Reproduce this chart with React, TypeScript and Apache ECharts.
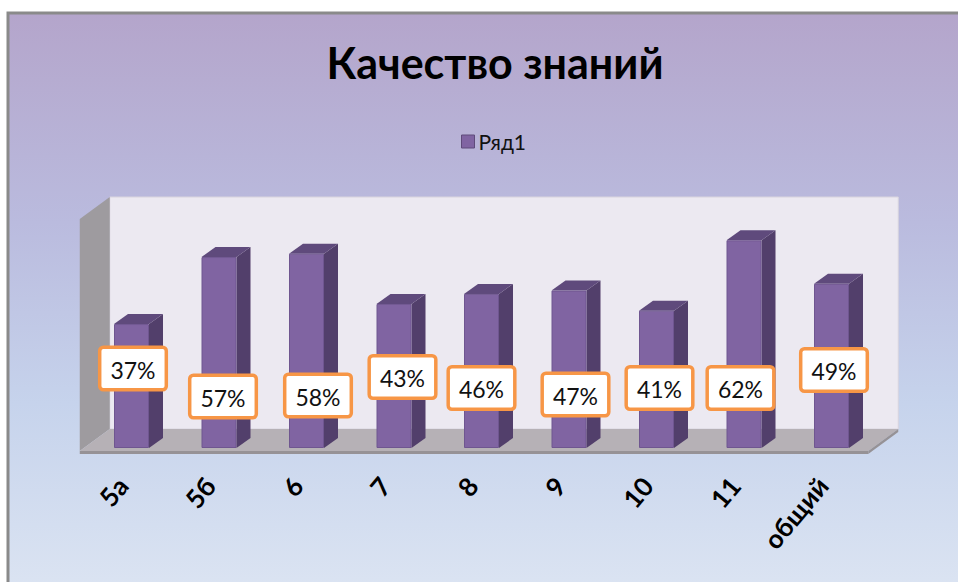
import React, { useEffect, useRef } from "react";
import * as echarts from "echarts";

const categories = ["5а", "5б", "6", "7", "8", "9", "10", "11", "общий"];
const values = [37, 57, 58, 43, 46, 47, 41, 62, 49];
const seriesName = "Ряд1";
const titleText = "Качество знаний";

// label placement tweaks (dx, dy in px), as in the source slide
const labelOffsets: [number, number][] = [
  [1.5, -55], [4, -27], [11.5, -28], [8.5, -46.5], [0, -35.5],
  [6.5, -29], [3, -35.5], [-3.5, -35.5], [2.5, -53.5],
];

const W = 958;
const H = 582;
const GL = 87.75;
const GW = 787.5;
const GTOP = 213.5;
const GH = 234.5;
const GB = GTOP + GH;
const GR = GL + GW;
const WDX = 30;
const WDY = -22;
const BDX = 14;
const BDY = -10;

export default function App() {
  const ref = useRef<HTMLDivElement>(null);
  useEffect(() => {
    if (!ref.current) return;
    const chart = echarts.init(ref.current, null, { renderer: "svg" });
    const fl = GL - 8;
    const fr = GR - 7;
    const fy = GB + 3;
    const graphic: any[] = [
      {
        type: "rect",
        z: 0,
        shape: { x: 8, y: 13, width: 1000, height: 600 },
        style: {
          fill: new echarts.graphic.LinearGradient(0, 0, 0, 1, [
            { offset: 0, color: "#B4A5CB" },
            { offset: 0.35, color: "#BABBDE" },
            { offset: 0.65, color: "#C6D3EC" },
            { offset: 1, color: "#DEE6F3" },
          ]),
          stroke: "#8A8A8A",
          lineWidth: 3,
        },
      },
      // back wall
      {
        type: "rect",
        z: 1,
        shape: { x: fl + WDX, y: 197, width: fr - fl, height: fy + WDY - 197 },
        style: { fill: "#ECE9F1", stroke: "#D8D4DE", lineWidth: 1 },
      },
      // left wall
      {
        type: "polygon",
        z: 1,
        shape: {
          points: [
            [fl, 197 - WDY],
            [fl + WDX, 197],
            [fl + WDX, fy + WDY],
            [fl, fy],
          ],
        },
        style: { fill: "#9E9B9F" },
      },
      // floor top
      {
        type: "polygon",
        z: 1,
        shape: {
          points: [
            [fl, fy],
            [fr, fy],
            [fr + WDX, fy + WDY],
            [fl + WDX, fy + WDY],
          ],
        },
        style: { fill: "#B6B1B6" },
      },
      // floor front edge
      {
        type: "rect",
        z: 1,
        shape: { x: fl, y: fy, width: fr - fl, height: 3 },
        style: { fill: "#969296" },
      },
      {
        type: "polygon",
        z: 1,
        shape: {
          points: [
            [fr, fy],
            [fr + WDX, fy + WDY],
            [fr + WDX, fy + WDY + 3],
            [fr, fy + 3],
          ],
        },
        style: { fill: "#969296" },
      },
    ];

    chart.setOption({
      animation: false,
      title: {
        text: titleText,
        left: 490,
        textAlign: "center",
        top: 36,
        textStyle: {
          fontFamily: "Lato",
          fontWeight: "bold",
          fontSize: 43,
          color: "#000",
        },
      },
      legend: {
        data: [seriesName],
        left: 456,
        top: 126,
        itemWidth: 13,
        itemHeight: 13,
        itemGap: 4,
        icon: "rect",
        itemStyle: { borderColor: "#5F4B7A", borderWidth: 1 },
        textStyle: { fontFamily: "Lato", fontSize: 21, color: "#111", padding: [0, 0, 0, -1] },
      },
      graphic,
      grid: { left: GL, top: GTOP, width: GW, height: GH, containLabel: false },
      xAxis: {
        type: "category",
        data: categories,
        axisLine: { show: false },
        axisTick: { show: false },
        axisLabel: {
          rotate: 50,
          margin: 22,
          padding: [0, 14, 0, 0],
          fontFamily: "Lato",
          fontWeight: "bold",
          fontSize: 26,
          color: "#000",
          interval: 0,
        },
      },
      yAxis: {
        type: "value",
        min: 0,
        max: 70,
        show: false,
        splitLine: { show: false },
      },
      series: [
        {
          type: "custom",
          name: "3d",
          z: 2,
          renderItem: (params: any, api: any) => {
            const top = api.coord([api.value(0), api.value(1)]);
            const base = api.coord([api.value(0), 0]);
            const hw = (api.size([1, 0])[0] * 0.4) / 2;
            const x = top[0];
            return {
              type: "group",
              children: [
                {
                  type: "polygon",
                  shape: {
                    points: [
                      [x + hw, top[1]],
                      [x + hw + BDX, top[1] + BDY],
                      [x + hw + BDX, base[1] + BDY],
                      [x + hw, base[1]],
                    ],
                  },
                  style: { fill: "#523F6B" },
                },
                {
                  type: "polygon",
                  shape: {
                    points: [
                      [x - hw, top[1]],
                      [x - hw + BDX, top[1] + BDY],
                      [x + hw + BDX, top[1] + BDY],
                      [x + hw, top[1]],
                    ],
                  },
                  style: { fill: "#5F4A7C" },
                },
              ],
            };
          },
          data: values.map((v, i) => [i, v]),
          encode: { x: 0, y: 1 },
          silent: true,
        },
        {
          type: "bar",
          name: seriesName,
          z: 4,
          barWidth: "40%",
          itemStyle: { color: "#8064A2", borderColor: "#6F5690", borderWidth: 1 },
          label: {
            show: true,
            position: "insideBottom",
            distance: 5,
            formatter: "{c}%",
            fontFamily: "Lato",
            fontSize: 23,
            color: "#111",
            backgroundColor: "#FFFFFF",
            borderColor: "#F79646",
            borderWidth: 3.5,
            borderRadius: 2,
            padding: [9, 9, 7, 9],
          },
          data: values.map((v, i) => ({
            value: v,
            label: { offset: labelOffsets[i] },
          })),
        },
      ],
    });
    return () => chart.dispose();
  }, []);
  return (
    <div
      ref={ref}
      style={{ position: "fixed", left: 0, top: 0, width: W, height: H, background: "#fff" }}
    />
  );
}
